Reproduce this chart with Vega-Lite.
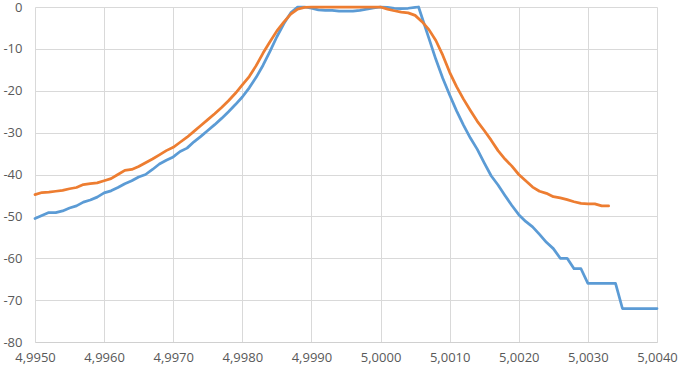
{
  "$schema": "https://vega.github.io/schema/vega-lite/v6.json",
  "width": 622,
  "height": 335,
  "autosize": "none",
  "padding": {"left": 35, "top": 7, "right": 23, "bottom": 30},
  "background": "white",
  "config": {
    "view": {"stroke": null},
    "axis": {
      "labelFont": "Open Sans",
      "labelFontSize": 13,
      "labelColor": "#595959",
      "gridColor": "#D9D9D9",
      "gridWidth": 1,
      "ticks": false,
      "tickSize": 0,
      "title": null
    }
  },
  "datasets": {
    "blue": [
      {"x": 4.9950, "y": -50.5}, {"x": 4.9951, "y": -49.8}, {"x": 4.9952, "y": -49.1}, {"x": 4.9953, "y": -49.1},
      {"x": 4.9954, "y": -48.7}, {"x": 4.9955, "y": -48.0}, {"x": 4.9956, "y": -47.5}, {"x": 4.9957, "y": -46.6},
      {"x": 4.9958, "y": -46.1}, {"x": 4.9959, "y": -45.4}, {"x": 4.9960, "y": -44.4}, {"x": 4.9961, "y": -43.9},
      {"x": 4.9962, "y": -43.1}, {"x": 4.9963, "y": -42.2}, {"x": 4.9964, "y": -41.5}, {"x": 4.9965, "y": -40.6},
      {"x": 4.9966, "y": -40.0}, {"x": 4.9967, "y": -38.8}, {"x": 4.9968, "y": -37.5}, {"x": 4.9969, "y": -36.6},
      {"x": 4.9970, "y": -35.8}, {"x": 4.9971, "y": -34.5}, {"x": 4.9972, "y": -33.7}, {"x": 4.9973, "y": -32.2},
      {"x": 4.9974, "y": -30.9}, {"x": 4.9975, "y": -29.5}, {"x": 4.9976, "y": -28.1}, {"x": 4.9977, "y": -26.6},
      {"x": 4.9978, "y": -25.0}, {"x": 4.9979, "y": -23.3}, {"x": 4.9980, "y": -21.5}, {"x": 4.9981, "y": -19.3},
      {"x": 4.9982, "y": -16.8}, {"x": 4.9983, "y": -13.9}, {"x": 4.9984, "y": -10.6}, {"x": 4.9985, "y": -7.1},
      {"x": 4.9986, "y": -4.0}, {"x": 4.9987, "y": -1.4}, {"x": 4.9988, "y": 0}, {"x": 4.9989, "y": 0},
      {"x": 4.9990, "y": -0.3}, {"x": 4.9991, "y": -0.7}, {"x": 4.9992, "y": -0.8}, {"x": 4.9993, "y": -0.8},
      {"x": 4.9994, "y": -1.0}, {"x": 4.9995, "y": -1.0}, {"x": 4.9996, "y": -1.0}, {"x": 4.9997, "y": -0.8},
      {"x": 4.9998, "y": -0.5}, {"x": 4.9999, "y": -0.2}, {"x": 5.0000, "y": 0}, {"x": 5.0001, "y": -0.1},
      {"x": 5.0002, "y": -0.3}, {"x": 5.0003, "y": -0.4}, {"x": 5.0004, "y": -0.3}, {"x": 5.0005, "y": -0.1},
      {"x": 5.00055, "y": 0}, {"x": 5.0006, "y": -2.5}, {"x": 5.0007, "y": -7.5}, {"x": 5.0008, "y": -12.5},
      {"x": 5.0009, "y": -17.0}, {"x": 5.0010, "y": -21.0}, {"x": 5.0011, "y": -24.8}, {"x": 5.0012, "y": -28.2},
      {"x": 5.0013, "y": -31.3}, {"x": 5.0014, "y": -34.0}, {"x": 5.0015, "y": -37.2}, {"x": 5.0016, "y": -40.3},
      {"x": 5.0017, "y": -42.5}, {"x": 5.0018, "y": -45.0}, {"x": 5.0019, "y": -47.4}, {"x": 5.0020, "y": -49.6},
      {"x": 5.0021, "y": -51.2}, {"x": 5.0022, "y": -52.5}, {"x": 5.0023, "y": -54.3}, {"x": 5.0024, "y": -56.2},
      {"x": 5.0025, "y": -57.7}, {"x": 5.0026, "y": -60.0}, {"x": 5.0027, "y": -60.0}, {"x": 5.0028, "y": -62.5},
      {"x": 5.0029, "y": -62.5}, {"x": 5.0030, "y": -66.0}, {"x": 5.0031, "y": -66.0}, {"x": 5.0032, "y": -66.0},
      {"x": 5.0033, "y": -66.0}, {"x": 5.0034, "y": -66.0}, {"x": 5.0035, "y": -72.0}, {"x": 5.0036, "y": -72.0},
      {"x": 5.0037, "y": -72.0}, {"x": 5.0038, "y": -72.0}, {"x": 5.0039, "y": -72.0}, {"x": 5.0040, "y": -72.0}
    ],
    "orange": [
      {"x": 4.9950, "y": -44.8}, {"x": 4.9951, "y": -44.3}, {"x": 4.9952, "y": -44.2}, {"x": 4.9953, "y": -44.0},
      {"x": 4.9954, "y": -43.8}, {"x": 4.9955, "y": -43.4}, {"x": 4.9956, "y": -43.1}, {"x": 4.9957, "y": -42.4},
      {"x": 4.9958, "y": -42.2}, {"x": 4.9959, "y": -42.0}, {"x": 4.9960, "y": -41.5}, {"x": 4.9961, "y": -41.0},
      {"x": 4.9962, "y": -40.0}, {"x": 4.9963, "y": -39.0}, {"x": 4.9964, "y": -38.8}, {"x": 4.9965, "y": -38.1},
      {"x": 4.9966, "y": -37.2}, {"x": 4.9967, "y": -36.3}, {"x": 4.9968, "y": -35.3}, {"x": 4.9969, "y": -34.3},
      {"x": 4.9970, "y": -33.5}, {"x": 4.9971, "y": -32.3}, {"x": 4.9972, "y": -31.1}, {"x": 4.9973, "y": -29.7},
      {"x": 4.9974, "y": -28.3}, {"x": 4.9975, "y": -26.9}, {"x": 4.9976, "y": -25.5}, {"x": 4.9977, "y": -24.0},
      {"x": 4.9978, "y": -22.4}, {"x": 4.9979, "y": -20.6}, {"x": 4.9980, "y": -18.6}, {"x": 4.9981, "y": -16.6},
      {"x": 4.9982, "y": -14.0}, {"x": 4.9983, "y": -11.0}, {"x": 4.9984, "y": -8.3}, {"x": 4.9985, "y": -5.7},
      {"x": 4.9986, "y": -3.6}, {"x": 4.9987, "y": -1.7}, {"x": 4.9988, "y": -0.5}, {"x": 4.9989, "y": -0.1},
      {"x": 4.9990, "y": 0}, {"x": 4.9991, "y": 0}, {"x": 4.9992, "y": 0}, {"x": 4.9993, "y": 0},
      {"x": 4.9994, "y": 0}, {"x": 4.9995, "y": 0}, {"x": 4.9996, "y": 0}, {"x": 4.9997, "y": 0},
      {"x": 4.9998, "y": 0}, {"x": 4.9999, "y": 0}, {"x": 5.0000, "y": 0}, {"x": 5.0001, "y": -0.5},
      {"x": 5.0002, "y": -0.9}, {"x": 5.0003, "y": -1.2}, {"x": 5.0004, "y": -1.4}, {"x": 5.0005, "y": -2.0},
      {"x": 5.0006, "y": -3.5}, {"x": 5.0007, "y": -5.4}, {"x": 5.0008, "y": -8.0}, {"x": 5.0009, "y": -11.5},
      {"x": 5.0010, "y": -15.6}, {"x": 5.0011, "y": -19.0}, {"x": 5.0012, "y": -22.0}, {"x": 5.0013, "y": -24.7},
      {"x": 5.0014, "y": -27.3}, {"x": 5.0015, "y": -29.5}, {"x": 5.0016, "y": -31.8}, {"x": 5.0017, "y": -34.3},
      {"x": 5.0018, "y": -36.3}, {"x": 5.0019, "y": -38.0}, {"x": 5.0020, "y": -40.0}, {"x": 5.0021, "y": -41.5},
      {"x": 5.0022, "y": -43.0}, {"x": 5.0023, "y": -44.0}, {"x": 5.0024, "y": -44.5}, {"x": 5.0025, "y": -45.3},
      {"x": 5.0026, "y": -45.6}, {"x": 5.0027, "y": -46.0}, {"x": 5.0028, "y": -46.5}, {"x": 5.0029, "y": -46.9},
      {"x": 5.0030, "y": -47.0}, {"x": 5.0031, "y": -47.0}, {"x": 5.0032, "y": -47.5}, {"x": 5.0033, "y": -47.5}
    ]
  },
  "encoding": {
    "x": {
      "field": "x", "type": "quantitative",
      "scale": {"domain": [4.995, 5.004], "nice": false, "zero": false},
      "axis": {
        "values": [4.995, 4.996, 4.997, 4.998, 4.999, 5.0, 5.001, 5.002, 5.003, 5.004],
        "labelExpr": "replace(format(datum.value, '.4f'), '.', ',')",
        "labelPadding": 9,
        "domainColor": "#D0D0D0",
        "labelFlush": false,
        "labelOverlap": false
      }
    },
    "y": {
      "field": "y", "type": "quantitative",
      "scale": {"domain": [-80, 0], "nice": false},
      "axis": {
        "values": [-80, -70, -60, -50, -40, -30, -20, -10, 0],
        "labelExpr": "toString(datum.value)",
        "labelPadding": 13,
        "domain": false
      }
    }
  },
  "layer": [
    {
      "data": {"name": "blue"},
      "mark": {"type": "line", "color": "#5B9BD5", "strokeWidth": 2.75, "strokeJoin": "round", "strokeCap": "round"}
    },
    {
      "data": {"name": "orange"},
      "mark": {"type": "line", "color": "#ED7D31", "strokeWidth": 2.75, "strokeJoin": "round", "strokeCap": "round"}
    }
  ]
}
